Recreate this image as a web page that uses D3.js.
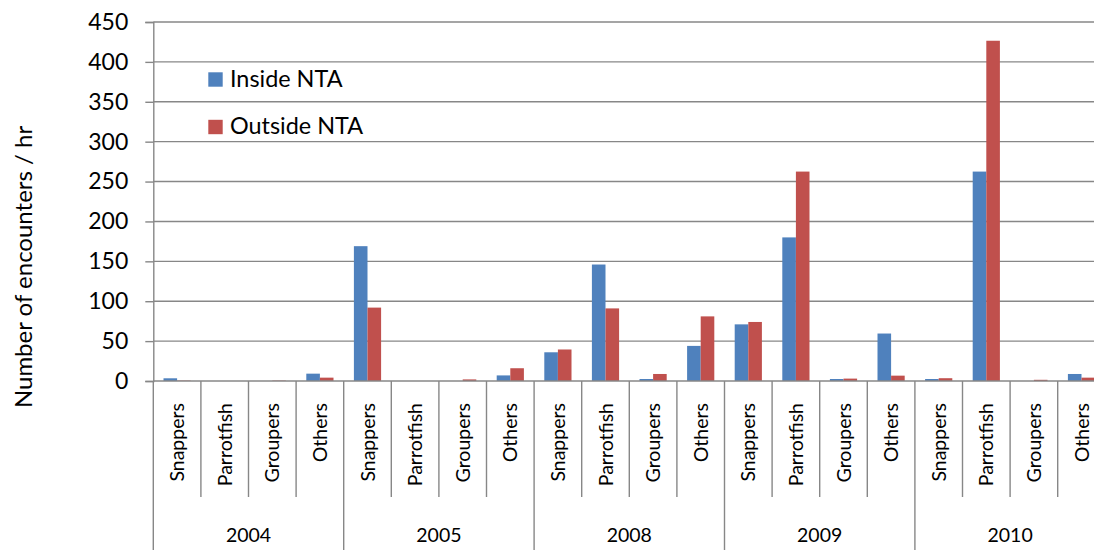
<!DOCTYPE html>
<html>
<head>
<meta charset="utf-8">
<script src="https://cdn.jsdelivr.net/npm/d3@7"></script>
<style>
  html, body { margin: 0; padding: 0; background: #fff; }
  svg { display: block; font-family: Lato, "Noto Sans", sans-serif; }
</style>
</head>
<body>
<svg id="chart" width="1094" height="550"></svg>
<script>
// Encounter rates per fish group, by survey year
const years = ["2004", "2005", "2008", "2009", "2010"];
const groups = ["Snappers", "Parrotfish", "Groupers", "Others"];
const seriesNames = ["Inside NTA", "Outside NTA"];
const seriesColors = ["#4F81BD", "#C0504D"];

// values listed year by year, in the order of `groups`
const insideNTA = [
  3.4, 0, 0, 9.2,
  169, 0, 0, 7,
  36, 146, 2.5, 44,
  71, 180, 2.5, 59.5,
  2.5, 262.5, 0, 8.8
];
const outsideNTA = [
  0.5, 0, 0.5, 4.2,
  92, 0, 2, 16,
  39.5, 91, 8.8, 81,
  74, 262.5, 3, 6.7,
  3.5, 426.5, 1.5, 4.2
];

const yTicks = [0, 50, 100, 150, 200, 250, 300, 350, 400, 450];

const svg = d3.select("#chart");
const W = 1094;
const plot = { left: 153.3, right: 1105.3, top: 22, bottom: 381 };
const axisColor = "#878787";

const keys = [];
years.forEach(y => groups.forEach(g => keys.push(y + "|" + g)));

const x = d3.scaleBand().domain(keys).range([plot.left, plot.right]).paddingInner(0).paddingOuter(0);
const x1 = d3.scaleBand().domain(seriesNames).range([0, x.bandwidth()]).paddingInner(0).paddingOuter(0.75);
const y = d3.scaleLinear().domain([0, 450]).range([plot.bottom, plot.top]);

// horizontal gridlines
svg.append("g")
  .selectAll("line")
  .data(yTicks.filter(t => t > 0))
  .join("line")
  .attr("x1", plot.left).attr("x2", W)
  .attr("y1", d => y(d)).attr("y2", d => y(d))
  .attr("stroke", axisColor).attr("stroke-width", 1.4);

// value axis
const yAxis = d3.axisLeft(y).tickValues(yTicks).tickSize(8).tickPadding(17).tickFormat(d3.format("d"));
const gy = svg.append("g").attr("transform", `translate(${plot.left},0)`).call(yAxis);
gy.select(".domain").attr("stroke", axisColor).attr("stroke-width", 1.4);
gy.selectAll(".tick line").attr("stroke", axisColor).attr("stroke-width", 1.4);
gy.selectAll(".tick text").attr("font-size", 23).attr("fill", "#000").attr("font-family", "Lato, sans-serif");

// bars
const rows = keys.map((k, i) => ({ key: k, values: [insideNTA[i], outsideNTA[i]] }));
const barG = svg.append("g");
rows.forEach(r => {
  barG.selectAll(null)
    .data(r.values.map((v, j) => ({ s: seriesNames[j], v, c: seriesColors[j] })))
    .join("rect")
    .attr("x", d => x(r.key) + x1(d.s))
    .attr("width", x1.bandwidth())
    .attr("y", d => y(d.v))
    .attr("height", d => y(0) - y(d.v))
    .attr("fill", d => d.c);
});

// category axis line
svg.append("line")
  .attr("x1", plot.left).attr("x2", W)
  .attr("y1", y(0)).attr("y2", y(0))
  .attr("stroke", axisColor).attr("stroke-width", 1.4);

// separators between categories (short) and between years (long)
const bounds = keys.map(k => x(k)).concat([plot.right]);
svg.append("g")
  .selectAll("line")
  .data(bounds)
  .join("line")
  .attr("x1", d => d).attr("x2", d => d)
  .attr("y1", y(0))
  .attr("y2", (d, i) => (i % groups.length === 0 ? 550 : 497))
  .attr("stroke", axisColor).attr("stroke-width", 1.4);

// rotated category labels
svg.append("g")
  .selectAll("text")
  .data(keys)
  .join("text")
  .attr("transform", k => `translate(${x(k) + x.bandwidth() / 2},403) rotate(-90)`)
  .attr("text-anchor", "end")
  .attr("dy", "0.36em")
  .attr("font-size", 19.5)
  .attr("fill", "#000")
  .text(k => k.split("|")[1]);

// year labels
svg.append("g")
  .selectAll("text")
  .data(years)
  .join("text")
  .attr("x", yr => x(yr + "|" + groups[0]) + x.bandwidth() * groups.length / 2)
  .attr("y", 542)
  .attr("text-anchor", "middle")
  .attr("font-size", 19.5)
  .attr("fill", "#000")
  .text(yr => yr);

// axis title
svg.append("text")
  .attr("transform", "translate(32,267) rotate(-90)")
  .attr("text-anchor", "middle")
  .attr("font-size", 24)
  .attr("fill", "#000")
  .text("Number of encounters / hr");

// legend
const legend = svg.append("g");
seriesNames.forEach((name, i) => {
  const ly = 86.5 + i * 47.5;
  legend.append("rect")
    .attr("x", 208.3).attr("y", ly - 14.2).attr("width", 14.4).attr("height", 14.4)
    .attr("fill", seriesColors[i]);
  legend.append("text")
    .attr("x", 230).attr("y", ly)
    .attr("font-size", 23.4)
    .attr("fill", "#000")
    .text(name);
});
</script>
</body>
</html>
